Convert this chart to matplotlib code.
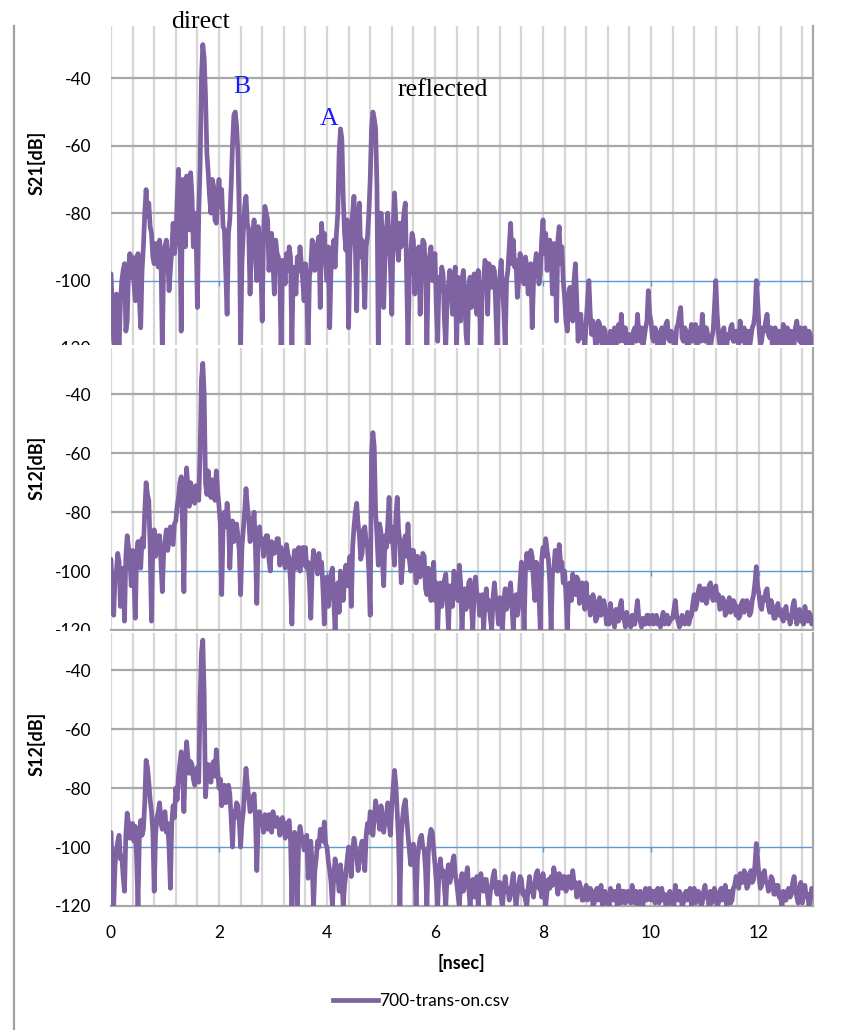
import numpy as np
import matplotlib
matplotlib.use("Agg")
import matplotlib.pyplot as plt
from matplotlib.patches import Rectangle
from matplotlib.lines import Line2D

W, H = 842, 1030
DT = 0.025  # ns between samples

# S21 (top panel), one row = 0.4 ns
s21 = [
    -98, -108, -118, -120, -104, -112, -120, -106, -100, -97, -95, -115, -112, -96, -92, -99,
    -93, -101, -106, -94, -92, -105, -114, -97, -90, -80, -73, -81, -77, -84, -86, -93,
    -95, -89, -90, -96, -88, -92, -120, -95, -90, -88, -93, -103, -97, -91, -83, -92,
    -88, -76, -67, -84, -115, -70, -72, -90, -69, -74, -85, -68, -75, -90, -80, -85,
    -108, -80, -66, -40, -30, -34, -45, -62, -68, -75, -80, -70, -72, -82, -83, -76,
    -70, -78, -73, -84, -85, -98, -110, -86, -82, -72, -60, -51, -50, -54, -62, -80,
    -120, -95, -86, -78, -75, -83, -85, -104, -90, -86, -82, -92, -100, -84, -88, -96,
    -112, -86, -78, -80, -82, -97, -90, -86, -95, -104, -88, -92, -93, -98, -120, -94,
    -95, -101, -92, -97, -90, -93, -120, -96, -97, -104, -93, -97, -90, -95, -100, -106,
    -95, -102, -120, -99, -96, -88, -90, -97, -94, -89, -87, -108, -83, -91, -86, -95,
    -100, -90, -114, -96, -92, -88, -96, -86, -80, -62, -55, -58, -75, -86, -91, -82,
    -114, -92, -85, -80, -75, -90, -109, -82, -77, -93, -88, -96, -108, -90, -87, -80,
    -70, -55, -50, -52, -55, -72, -120, -90, -80, -86, -108, -92, -85, -80, -88, -96,
    -110, -84, -74, -82, -90, -94, -83, -90, -85, -80, -77, -98, -120, -99, -92, -86,
    -88, -104, -96, -91, -90, -110, -94, -88, -89, -97, -120, -96, -93, -90, -100, -95,
    -92, -108, -118, -99, -103, -96, -98, -112, -120, -104, -101, -97, -104, -110, -100, -96,
    -120, -99, -105, -112, -100, -97, -103, -116, -120, -102, -99, -108, -104, -98, -101, -110,
    -97, -105, -120, -103, -100, -94, -96, -110, -95, -99, -102, -96, -97, -108, -120, -101,
    -99, -94, -102, -109, -120, -100, -97, -90, -83, -95, -88, -96, -94, -105, -100, -92,
    -94, -99, -101, -93, -96, -104, -99, -95, -114, -100, -96, -92, -94, -101, -98, -88,
    -82, -92, -86, -97, -91, -88, -93, -104, -89, -92, -112, -88, -84, -95, -90, -100,
    -105, -112, -115, -104, -102, -110, -112, -100, -95, -106, -118, -111, -110, -117, -115, -120,
    -112, -106, -100, -110, -116, -112, -114, -120, -118, -112, -113, -117, -120, -114, -115, -119,
    -117, -120, -115, -118, -119, -114, -120, -116, -113, -118, -110, -117, -118, -114, -120, -116,
    -116, -120, -119, -115, -114, -118, -110, -116, -118, -114, -120, -117, -114, -112, -103, -110,
    -112, -117, -118, -114, -115, -120, -120, -116, -114, -119, -117, -113, -112, -117, -118, -115,
    -116, -119, -120, -114, -113, -110, -108, -117, -118, -114, -115, -120, -119, -116, -113, -118,
    -116, -113, -120, -117, -114, -118, -110, -116, -118, -114, -116, -120, -120, -117, -115, -108,
    -100, -110, -116, -119, -118, -115, -114, -120, -120, -116, -117, -114, -113, -118, -118, -115,
    -116, -119, -112, -116, -118, -114, -120, -117, -115, -120, -117, -114, -113, -110, -100, -106,
    -114, -119, -118, -114, -115, -112, -110, -116, -117, -114, -120, -116, -114, -119, -118, -115,
    -116, -119, -113, -117, -120, -114, -117, -120, -115, -118, -119, -114, -112, -116, -118, -114,
    -120, -116, -114, -119, -118, -115, -116, -120,
]

# S12, middle panel
s12_mid = [
    -96, -108, -115, -102, -100, -94, -97, -112, -104, -99, -117, -95, -88, -92, -96, -105,
    -93, -102, -116, -94, -90, -96, -99, -89, -92, -80, -70, -74, -76, -92, -117, -90,
    -86, -95, -92, -88, -88, -97, -107, -94, -90, -86, -93, -89, -85, -90, -91, -84,
    -83, -78, -75, -70, -68, -85, -107, -75, -65, -72, -78, -70, -72, -76, -77, -71,
    -72, -76, -60, -35, -29.5, -40, -70, -74, -66, -72, -75, -69, -72, -76, -66, -73,
    -78, -84, -108, -86, -80, -85, -77, -82, -99, -88, -83, -90, -86, -84, -88, -93,
    -108, -92, -86, -80, -72, -78, -82, -90, -88, -84, -80, -92, -111, -89, -85, -91,
    -89, -95, -92, -88, -88, -96, -100, -90, -91, -94, -93, -89, -89, -98, -92, -95,
    -95, -99, -91, -94, -96, -104, -118, -97, -93, -99, -96, -92, -100, -95, -92, -98,
    -92, -99, -97, -104, -116, -100, -93, -98, -96, -101, -94, -100, -97, -106, -118, -103,
    -102, -112, -106, -101, -99, -110, -120, -108, -104, -114, -100, -106, -110, -103, -98, -105,
    -100, -95, -112, -92, -85, -80, -77, -84, -88, -96, -94, -86, -85, -90, -92, -100,
    -115, -60, -53, -58, -80, -88, -98, -84, -87, -96, -105, -88, -92, -84, -75, -90,
    -85, -92, -98, -82, -75, -86, -90, -104, -98, -90, -88, -95, -84, -96, -100, -93,
    -93, -98, -104, -95, -96, -102, -98, -94, -95, -106, -108, -99, -100, -110, -102, -97,
    -110, -104, -120, -107, -104, -112, -108, -103, -101, -110, -120, -105, -106, -112, -100, -104,
    -102, -110, -98, -104, -120, -109, -106, -113, -110, -104, -103, -112, -120, -107, -102, -108,
    -108, -115, -113, -108, -120, -111, -106, -113, -110, -116, -120, -109, -104, -110, -112, -118,
    -109, -114, -120, -110, -106, -113, -111, -107, -104, -112, -120, -110, -108, -115, -112, -104,
    -97, -106, -120, -100, -94, -98, -99, -93, -95, -104, -110, -97, -100, -108, -120, -96,
    -92, -95, -89, -93, -96, -104, -120, -101, -99, -93, -95, -100, -91, -97, -97, -104,
    -100, -108, -120, -106, -104, -110, -101, -107, -108, -102, -103, -111, -109, -104, -106, -113,
    -104, -112, -109, -115, -112, -108, -110, -117, -116, -111, -109, -115, -114, -110, -112, -118,
    -115, -118, -111, -116, -116, -119, -113, -117, -117, -112, -110, -116, -116, -119, -114, -117,
    -117, -119, -115, -118, -118, -114, -110, -116, -117, -119, -116, -118, -118, -115, -115, -118,
    -117, -115, -118, -116, -115, -118, -117, -119, -116, -114, -118, -115, -115, -118, -117, -116,
    -116, -113, -110, -115, -117, -119, -118, -115, -116, -118, -117, -114, -118, -116, -115, -111,
    -108, -113, -111, -107, -105, -109, -110, -106, -106, -111, -109, -105, -104, -108, -110, -107,
    -105, -110, -108, -113, -112, -109, -110, -115, -114, -111, -109, -114, -113, -110, -111, -115,
    -112, -116, -115, -111, -110, -114, -113, -110, -111, -115, -114, -110, -108, -104, -98.5, -105,
    -108, -112, -113, -109, -110, -107, -106, -112, -114, -110, -112, -116, -116, -113, -111, -115,
    -113, -116, -117, -114, -112, -116, -115, -118, -116, -112, -110, -114, -118, -115, -113, -117,
    -116, -118, -112, -115, -117, -114, -115, -118,
]

# S12, bottom panel
s12_bot = [
    -95, -108, -120, -106, -101, -98, -96, -104, -103, -110, -115, -96, -88.5, -92, -97, -94,
    -92, -98, -93, -104, -120, -97, -91, -96, -94, -85, -70.6, -73, -78, -84, -88, -95,
    -115, -96, -90, -88, -85, -92, -94, -89, -88, -95, -92, -100, -114, -92, -86, -90,
    -80, -84, -76, -72, -67.7, -74, -88, -72, -64.3, -70, -75, -71, -72, -77, -79, -74,
    -73, -78, -50, -34, -29.8, -48, -83, -76, -72, -74, -78, -72, -71, -76, -67, -74,
    -80, -77, -86, -80, -79, -85, -84, -79, -82, -90, -100, -88, -90, -85, -86, -91,
    -100, -92, -88, -80, -73.3, -79, -83, -88, -87, -84, -82, -90, -108, -92, -88, -91,
    -91, -95, -89, -92, -94, -89, -90, -95, -88, -92, -93, -90, -91, -96, -94, -90,
    -92, -97, -96, -92, -91, -98, -120, -99, -95, -104, -120, -98, -93, -96, -97, -101,
    -100, -96, -110.6, -101, -98, -106, -120, -108, -104, -98, -100, -94, -95, -98, -91.5, -99,
    -100, -105, -108, -112, -120, -110, -104, -109, -110, -115, -106, -111, -120, -113, -109, -104,
    -100, -104, -110, -101, -97, -100, -103, -108, -105, -100, -98, -102, -108, -96, -92, -95,
    -88, -93, -96, -90, -84.3, -88, -90, -94, -86, -90, -95, -91, -89, -85, -92, -96,
    -86, -80, -74, -79, -88, -98, -120, -96, -90, -86, -84, -90, -96, -101, -106, -100,
    -99, -106, -120, -104, -100, -97, -96, -100, -101, -108, -120, -102, -97, -94, -95, -101,
    -106, -112, -120, -108, -104, -110, -108, -114, -120, -109, -106, -112, -110, -105, -103, -109,
    -112, -116, -120, -112, -109, -115, -113, -110, -107, -114, -120, -113, -111, -117, -114, -110,
    -120, -113, -109, -114, -115, -111, -111, -117, -120, -115, -113, -110, -108, -114, -116, -112,
    -112, -117, -120, -114, -110, -115, -114, -118, -116, -112, -109, -115, -120, -116, -113, -110,
    -111, -116, -115, -118, -120, -114, -110, -115, -114, -117, -112, -109, -108, -114, -113, -117,
    -109, -114, -120, -115, -111, -114, -110, -113, -107, -110, -112, -116, -109, -113, -114, -110,
    -110, -115, -113, -110, -111, -114, -108, -112, -112, -117, -115, -112, -114, -118, -118, -115,
    -113, -118, -117, -114, -115, -120, -119, -115, -114, -118, -116, -113, -120, -117, -115, -119,
    -117, -120, -114, -117, -118, -115, -116, -120, -113, -117, -119, -115, -115, -119, -118, -115,
    -116, -119, -113, -116, -119, -115, -117, -120, -115, -118, -120, -116, -114, -118, -117, -114,
    -118, -115, -115, -119, -117, -114, -119, -116, -114, -118, -116, -120, -120, -116, -115, -119,
    -117, -120, -113, -117, -118, -115, -116, -120, -119, -116, -115, -118, -117, -114, -120, -117,
    -114, -119, -118, -115, -116, -120, -119, -115, -113, -117, -117, -120, -115, -119, -118, -114,
    -116, -120, -119, -115, -114, -118, -117, -113, -120, -116, -115, -119, -118, -114, -113, -110,
    -111, -114, -109, -112, -112, -108, -110, -114, -113, -109, -108, -112, -111, -106, -98.8, -104,
    -110, -114, -113, -109, -108, -112, -112, -115, -114, -110, -111, -116, -116, -113, -113, -117,
    -117, -120, -115, -118, -118, -115, -114, -117, -116, -112, -110, -114, -117, -119, -114, -112,
    -119, -115, -113, -117, -116, -120, -118, -114,
]

ylabels = ["S21[dB]", "S12[dB]", "S12[dB]"]
y_ticks = [-40, -60, -80, -100, -120]
x_ticks = [0, 2, 4, 6, 8, 10, 12]
legend_label = "700-trans-on.csv"

LINE_C = "#7e62a1"
GRID_V = "#d6d6d6"
GRID_H = "#a8a8a8"
AXIS_B = "#5b9bd5"
FONT = ["Lato", "DejaVu Sans"]

plt.rcParams["font.family"] = FONT
plt.rcParams["axes.unicode_minus"] = False


def box(l, t, r, b):
    return [l / W, 1 - b / H, (r - l) / W, (b - t) / H]


def fpos(x, y):
    return x / W, 1 - y / H


fig = plt.figure(figsize=(W / 100, H / 100), dpi=100)

panels = [
    (s21, box(111, 26, 813, 348), -24.5, 163),
    (s12_mid, box(111, 348, 813, 630), -24.3, 468),
    (s12_bot, box(111, 633, 813, 906), -27.4, 744),
]
covers = [None, (345, 630), (630.6, H)]

for i, (vals, pos, ytop, ylab_y) in enumerate(panels):
    if covers[i] is not None:
        top, bot = covers[i]
        fig.add_artist(Rectangle((20 / W, 1 - bot / H), (W - 20) / W, (bot - top) / H,
                                 transform=fig.transFigure, facecolor="white",
                                 edgecolor="none", zorder=i + 0.5))
    ax = fig.add_axes(pos)
    ax.set_zorder(i + 1)
    t = np.arange(len(vals)) * DT
    ax.plot(t, vals, color=LINE_C, lw=3.4, zorder=3,
            solid_joinstyle="round", solid_capstyle="round")
    ax.set_xlim(0, 13)
    ax.set_ylim(-120, ytop)

    ax.set_xticks(x_ticks)
    ax.set_xticks(np.arange(0, 13, 0.4), minor=True)
    ax.grid(which="both", axis="x", color=GRID_V, lw=1.6, zorder=0)
    for yv in y_ticks[:3]:
        ax.axhline(yv, color=GRID_H, lw=1.6, zorder=1)
    ax.axhline(-100, color=AXIS_B, lw=1.0, zorder=2)
    ax.vlines(x_ticks[1:], -100, -101.6, color=AXIS_B, lw=1.0, zorder=2)

    ax.set_yticks(y_ticks)
    ax.tick_params(axis="y", length=0, pad=14, labelsize=12.5)
    ax.tick_params(axis="x", which="both", length=0, pad=14, labelsize=12.5)
    if i < 2:
        ax.tick_params(axis="x", labelbottom=False)
    for side in ("top", "left"):
        ax.spines[side].set_visible(False)
    for side in ("right", "bottom"):
        ax.spines[side].set_color(GRID_H)
        ax.spines[side].set_linewidth(1.6)
    ax.set_axisbelow(True)

    fig.text(*fpos(37, ylab_y), ylabels[i], rotation=90, ha="center", va="center",
             fontsize=13, fontweight="bold")

fig.text(*fpos(461, 963), "[nsec]", ha="center", va="center",
         fontsize=13, fontweight="bold")

fig.legend(handles=[Line2D([], [], color=LINE_C, lw=3.4)], labels=[legend_label],
           loc="center", bbox_to_anchor=fpos(421, 1001), frameon=False,
           fontsize=12.5, handlelength=2.6, handletextpad=0.1)

# left page border
fig.add_artist(Line2D([14 / W, 14 / W], [0, 1 - 26 / H], transform=fig.transFigure,
                      color="#a0a0a0", lw=1.6, zorder=10))

serif = ["Liberation Serif", "DejaVu Serif"]
fig.text(*fpos(200, 27.7), "direct", ha="center", va="baseline",
         fontsize=18.5, family=serif, zorder=10)
fig.text(*fpos(398, 95.7), "reflected", ha="left", va="baseline",
         fontsize=18.5, family=serif, zorder=10)
fig.text(*fpos(242, 93.3), "B", ha="center", va="baseline",
         fontsize=18.5, family=serif, color="#1a1aff", zorder=10)
fig.text(*fpos(329, 125), "A", ha="center", va="baseline",
         fontsize=18.5, family=serif, color="#1a1aff", zorder=10)

fig.savefig("out.png", dpi=100)
